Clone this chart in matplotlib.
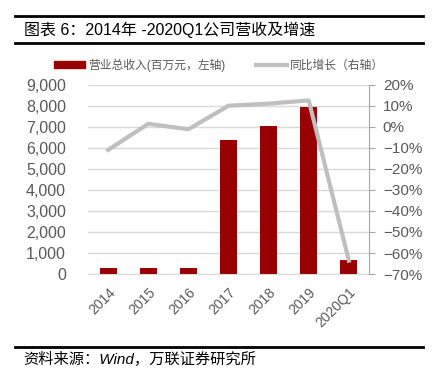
import numpy as np
import matplotlib.pyplot as plt
from matplotlib.ticker import FuncFormatter, MultipleLocator
from matplotlib.lines import Line2D

plt.rcParams['font.family'] = ['Liberation Sans', 'Noto Sans CJK SC']

years = ['2014', '2015', '2016', '2017', '2018', '2019', '2020Q1']
revenue = [280, 280, 280, 6350, 7050, 7960, 650]          # 百万元
growth = [-11.0, 1.4, -1.2, 10.0, 11.0, 12.5, -63.6]       # %

bar_color = '#990000'
line_color = '#BFBFBF'
tick_color = '#595959'

fig = plt.figure(figsize=(4.32, 3.78), dpi=100)
ax = fig.add_axes([0.204, 0.275, 0.650, 0.501])
x = np.arange(len(years))

ax.bar(x, revenue, width=0.42, color=bar_color, zorder=3)
ax.set_xlim(-0.5, len(years) - 0.5)
ax.set_ylim(0, 9000)
ax.yaxis.set_major_locator(MultipleLocator(1000))
ax.yaxis.set_major_formatter(FuncFormatter(lambda v, p: f'{int(v):,}'))
ax.grid(axis='y', color='#D9D9D9', linewidth=1.0, zorder=0)
for s in ['top', 'right', 'left']:
    ax.spines[s].set_visible(False)
ax.spines['bottom'].set_color('#D9D9D9')
ax.tick_params(axis='y', length=0, labelsize=11.5, colors=tick_color, pad=16)
ax.tick_params(axis='x', length=0, labelsize=10, colors=tick_color, pad=8)
ax.set_xticks(x)
ax.set_xticklabels(years, rotation=45, ha='right', rotation_mode='anchor')

ax2 = ax.twinx()
ax2.plot(x, growth, color=line_color, linewidth=3, zorder=4)
ax2.set_ylim(-70, 20)
ax2.yaxis.set_major_locator(MultipleLocator(10))
ax2.yaxis.set_major_formatter(FuncFormatter(lambda v, p: f'{int(round(v))}%'.replace('-', '\u2212')))
for s in ['top', 'left', 'bottom']:
    ax2.spines[s].set_visible(False)
ax2.spines['right'].set_color('#A6A6A6')
ax2.tick_params(axis='y', direction='out', length=4, color='#A6A6A6',
                labelsize=11, colors=tick_color, pad=6)

# legend
handles = [plt.Rectangle((0, 0), 1, 1, color=bar_color),
           Line2D([0], [0], color=line_color, linewidth=3)]
fig.legend(handles, ['营业总收入(百万元，左轴)', '同比增长（右轴）'],
           loc='center left', bbox_to_anchor=(0.1, 0.828), ncol=2, frameon=False,
           fontsize=8.5, labelcolor=tick_color, handlelength=2.6, handletextpad=0.3,
           columnspacing=2.6, handleheight=0.6)

# title and rules
fig.add_artist(Line2D([0.035, 0.98], [1 - 16 / 378] * 2, color='black', linewidth=2))
fig.add_artist(Line2D([0.035, 0.98], [1 - 43 / 378] * 2, color='black', linewidth=2))
fig.text(0.055, 1 - 30 / 378, '图表 6：2014年 -2020Q1公司营收及增速', fontsize=11.5,
         va='center', ha='left', color='black')
fig.add_artist(Line2D([0.035, 0.98], [1 - 347 / 378] * 2, color='black', linewidth=2))
fig.text(0.055, 1 - 359 / 378, '资料来源：Wind，万联证券研究所', fontsize=11,
         va='center', ha='left', color='black', style='italic')

fig.savefig('out.png', dpi=100)
